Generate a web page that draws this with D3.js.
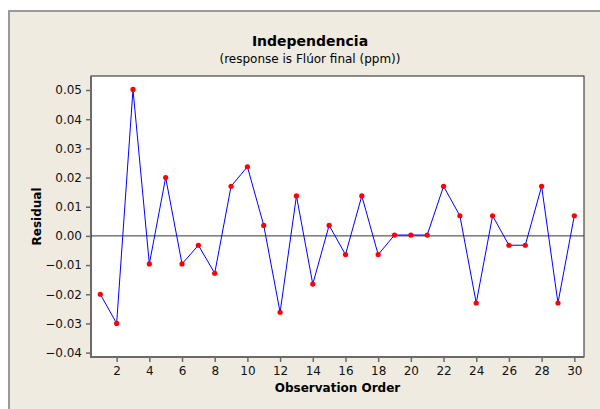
<!DOCTYPE html>
<html>
<head>
<meta charset="utf-8">
<script src="https://cdn.jsdelivr.net/npm/d3@7"></script>
<style>
  body { margin: 0; background: #fff; }
  svg { display: block; font-family: "DejaVu Sans", Verdana, sans-serif; }
</style>
</head>
<body>
<svg id="chart" width="600" height="409"></svg>
<script>
// residuals by observation order
const order = d3.range(1, 31);
const residuals = [
  -0.0200, -0.0300, 0.0502, -0.0096, 0.0200, -0.0096, -0.0032, -0.0128, 0.0170, 0.0237,
  0.0036, -0.0262, 0.0137, -0.0165, 0.0036, -0.0064, 0.0137, -0.0064, 0.0003, 0.0003,
  0.0003, 0.0170, 0.0069, -0.0230, 0.0069, -0.0032, -0.0032, 0.0170, -0.0230, 0.0069
];
const xTicks = d3.range(2, 31, 2);
const yTicks = [-0.04, -0.03, -0.02, -0.01, 0, 0.01, 0.02, 0.03, 0.04, 0.05];

const svg = d3.select("#chart");
const plot = { left: 91, top: 76, right: 584, bottom: 357 };

// outer panel
svg.append("rect")
  .attr("x", 9).attr("y", 11)
  .attr("width", 620).attr("height", 420)
  .attr("fill", "#efebe1")
  .attr("stroke", "#9a9a9a")
  .attr("stroke-width", 2);

const x = d3.scaleLinear().domain([0.431, 30.593]).range([plot.left, plot.right]);
const y = d3.scaleLinear().domain([-0.0415, 0.0548]).range([plot.bottom, plot.top]);

// plot area
svg.append("rect")
  .attr("x", plot.left).attr("y", plot.top)
  .attr("width", plot.right - plot.left)
  .attr("height", plot.bottom - plot.top)
  .attr("fill", "#fff")
  .attr("stroke", "#222")
  .attr("stroke-width", 1);

// axes
const yAxis = svg.append("g")
  .attr("transform", `translate(${plot.left},0)`)
  .call(d3.axisLeft(y).tickValues(yTicks).tickSize(5).tickPadding(4)
    .tickFormat(d3.format(".2f")));
const xAxis = svg.append("g")
  .attr("transform", `translate(0,${plot.bottom})`)
  .call(d3.axisBottom(x).tickValues(xTicks).tickSize(5).tickPadding(4));

[yAxis, xAxis].forEach(g => {
  g.select(".domain").remove();
  g.selectAll(".tick line").attr("stroke", "#6a6a6a").attr("stroke-width", 1.5);
  g.selectAll(".tick text").attr("fill", "#111").attr("font-size", 12)
    .attr("font-family", "DejaVu Sans, sans-serif");
});

// thicker left and bottom axis lines
svg.append("line")
  .attr("x1", plot.left).attr("x2", plot.left)
  .attr("y1", plot.top).attr("y2", plot.bottom + 1)
  .attr("stroke", "#6a6a6a").attr("stroke-width", 2);
svg.append("line")
  .attr("x1", plot.left - 1).attr("x2", plot.right)
  .attr("y1", plot.bottom).attr("y2", plot.bottom)
  .attr("stroke", "#6a6a6a").attr("stroke-width", 2);

// zero reference line
svg.append("line")
  .attr("x1", plot.left).attr("x2", plot.right)
  .attr("y1", y(0)).attr("y2", y(0))
  .attr("stroke", "#333").attr("stroke-width", 1);

// connecting line
const line = d3.line()
  .x((d, i) => x(order[i]))
  .y(d => y(d));
svg.append("path")
  .datum(residuals)
  .attr("d", line)
  .attr("fill", "none")
  .attr("stroke", "#0000ff")
  .attr("stroke-width", 1);

// points
svg.selectAll(".pt")
  .data(residuals)
  .join("circle")
  .attr("class", "pt")
  .attr("cx", (d, i) => x(order[i]))
  .attr("cy", d => y(d))
  .attr("r", 2.6)
  .attr("fill", "#ff0000");

// titles
svg.append("text")
  .attr("x", 310).attr("y", 46)
  .attr("text-anchor", "middle")
  .attr("font-size", 14).attr("font-weight", "bold")
  .text("Independencia");
svg.append("text")
  .attr("x", 310).attr("y", 63)
  .attr("text-anchor", "middle")
  .attr("font-size", 12)
  .text("(response is Flúor final (ppm))");

svg.append("text")
  .attr("x", (plot.left + plot.right) / 2).attr("y", 392)
  .attr("text-anchor", "middle")
  .attr("font-size", 12).attr("font-weight", "bold")
  .text("Observation Order");
svg.append("text")
  .attr("transform", `translate(41,${(plot.top + plot.bottom) / 2}) rotate(-90)`)
  .attr("text-anchor", "middle")
  .attr("font-size", 12).attr("font-weight", "bold")
  .text("Residual");
</script>
</body>
</html>
